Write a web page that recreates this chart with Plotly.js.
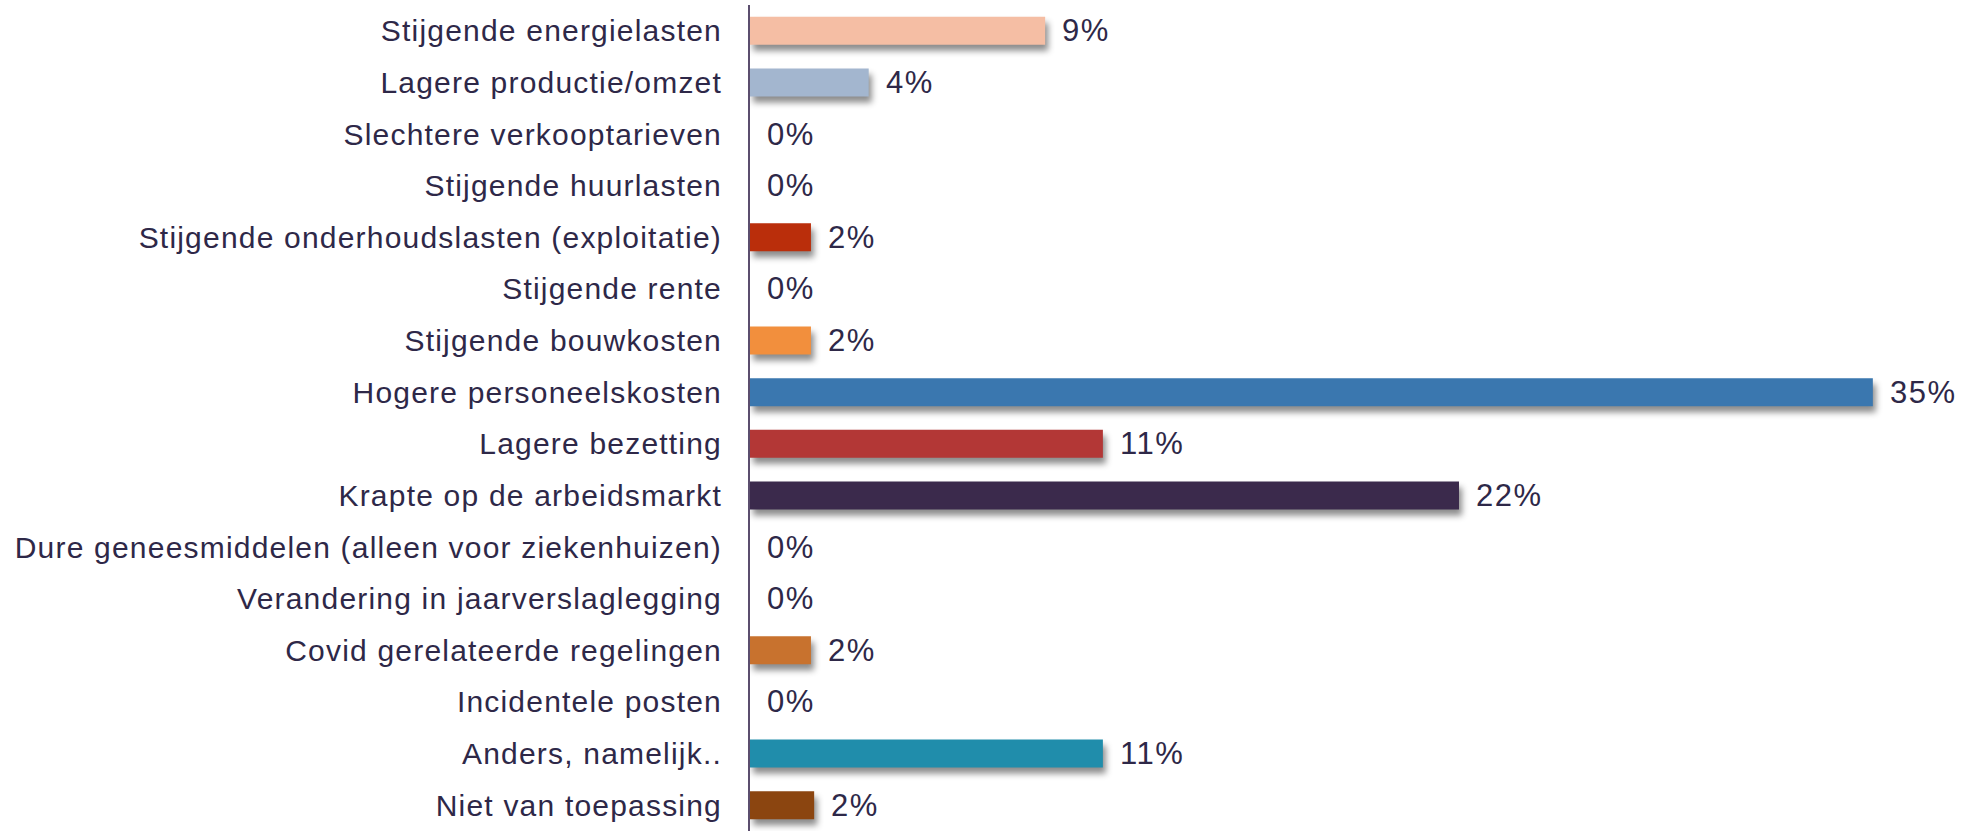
<!DOCTYPE html>
<html>
<head>
<meta charset="utf-8">
<script src="https://cdn.plot.ly/plotly-3.0.1.min.js"></script>
<style>
  html, body { margin: 0; padding: 0; background: #ffffff; }
  #chart { width: 1967px; height: 831px; }
  .trace.bars .point path { filter: drop-shadow(3px 6px 3px rgba(0,0,0,0.45)); }
  .ytick text { letter-spacing: 1.2px; }
  .annotation-text { letter-spacing: 1.5px; }
</style>
</head>
<body>
<div id="chart"></div>
<script>
const categories = [
  "Stijgende energielasten",
  "Lagere productie/omzet",
  "Slechtere verkooptarieven",
  "Stijgende huurlasten",
  "Stijgende onderhoudslasten (exploitatie)",
  "Stijgende rente",
  "Stijgende bouwkosten",
  "Hogere personeelskosten",
  "Lagere bezetting",
  "Krapte op de arbeidsmarkt",
  "Dure geneesmiddelen (alleen voor ziekenhuizen)",
  "Verandering in jaarverslaglegging",
  "Covid gerelateerde regelingen",
  "Incidentele posten",
  "Anders, namelijk..",
  "Niet van toepassing"
];
const values = [9.2, 3.7, 0, 0, 1.9, 0, 1.9, 35, 11, 22.1, 0, 0, 1.9, 0, 11, 2.0];
const labels = ["9%", "4%", "0%", "0%", "2%", "0%", "2%", "35%", "11%", "22%", "0%", "0%", "2%", "0%", "11%", "2%"];
const colors = ["#F5BEA4", "#A3B6CF", "#cccccc", "#cccccc", "#BA2E0B", "#cccccc", "#F28F3D", "#3A77AF",
                "#B33736", "#3B2A4C", "#cccccc", "#cccccc", "#C8722E", "#cccccc", "#208DAB", "#8B4510"];

const textColor = "#2E2848";
const fontFamily = "Liberation Sans, Arial, sans-serif";

const trace = {
  type: "bar",
  orientation: "h",
  y: categories,
  x: values,
  marker: { color: colors },
  hoverinfo: "none"
};

const annotations = categories.map((c, i) => ({
  x: values[i],
  y: c,
  xref: "x",
  yref: "y",
  text: labels[i],
  showarrow: false,
  xanchor: "left",
  yanchor: "middle",
  xshift: 15,
  font: { family: fontFamily, size: 31, color: textColor }
}));

const layout = {
  width: 1967,
  height: 831,
  margin: { l: 750, r: 30, t: 5, b: 0 },
  paper_bgcolor: "#ffffff",
  plot_bgcolor: "#ffffff",
  bargap: 0.46,
  showlegend: false,
  xaxis: {
    range: [0, 37],
    showgrid: false,
    zeroline: false,
    showticklabels: false,
    ticks: "",
    showline: false,
    fixedrange: true
  },
  yaxis: {
    autorange: "reversed",
    showgrid: false,
    zeroline: false,
    showline: true,
    linecolor: "#5B4E6E",
    linewidth: 2,
    ticks: "",
    ticklabelstandoff: 20,
    tickfont: { family: fontFamily, size: 30, color: textColor },
    fixedrange: true
  },
  annotations: annotations
};

Plotly.newPlot("chart", [trace], layout, { displayModeBar: false, staticPlot: true });
</script>
</body>
</html>
